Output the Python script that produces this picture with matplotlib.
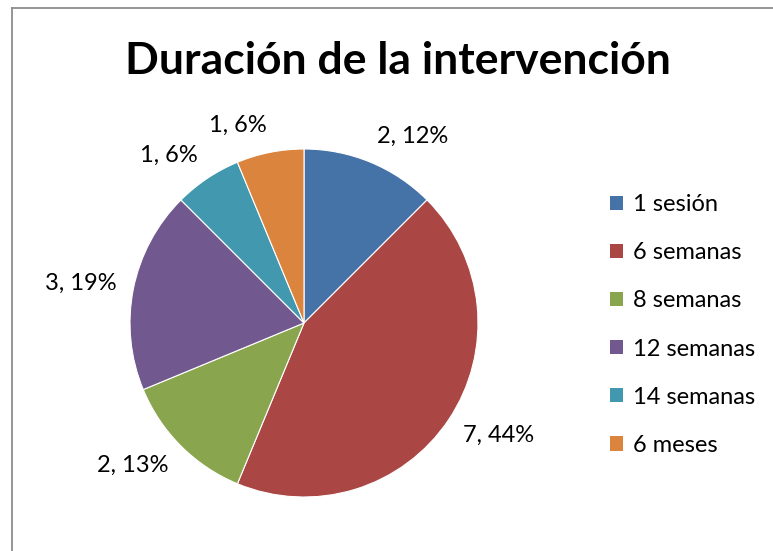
import numpy as np
import matplotlib
matplotlib.use("Agg")
import matplotlib.pyplot as plt
from matplotlib.lines import Line2D
from matplotlib.patches import Patch

categories = ["1 sesión", "6 semanas", "8 semanas", "12 semanas", "14 semanas", "6 meses"]
values = [2, 7, 2, 3, 1, 1]
pct_labels = ["12%", "44%", "13%", "19%", "6%", "6%"]
colors = ["#4572A7", "#AA4643", "#89A54E", "#71588F", "#4198AF", "#DB843D"]
title = "Duración de la intervención"

plt.rcParams['font.family'] = ['Lato', 'DejaVu Sans']

W, H = 773, 551
fig = plt.figure(figsize=(W / 100, H / 100), dpi=100)
fig.patch.set_facecolor("white")

cx, cy, r = 304, 228, 174
scale = 1.4
side = 2 * r * scale
ax = fig.add_axes([(cx - side / 2) / W, (cy - side / 2) / H, side / W, side / H])

wedges, _ = ax.pie(values, colors=colors, startangle=90, counterclock=False,
                   radius=1.0, wedgeprops=dict(edgecolor="white", linewidth=0.8))
ax.set_xlim(-scale, scale)
ax.set_ylim(-scale, scale)
ax.set_aspect("equal")
ax.set_axis_off()

# data labels placed outside each wedge (Excel "best fit" style)
labels = [f"{v}, {p}" for v, p in zip(values, pct_labels)]
for w, lab in zip(wedges, labels):
    ang = np.deg2rad((w.theta1 + w.theta2) / 2)
    c, s = np.cos(ang), np.sin(ang)
    ax.annotate(lab, xy=(1.1 * c, 1.1 * s), xytext=(0, 7.5 * s),
                textcoords="offset points", ha="left" if c >= 0 else "right",
                va="center", fontsize=17, color="black", annotation_clip=False)

fig.text(398 / W, 1 - 61 / H, title, ha="center", va="center",
         fontsize=32, fontweight="bold")

handles = [Patch(facecolor=c, edgecolor="none") for c in colors]
fig.legend(handles, categories, loc="center left",
           bbox_to_anchor=(589 / W, 1 - 325 / H), frameon=False,
           fontsize=17, handlelength=0.55, handleheight=0.55,
           handletextpad=0.4, labelspacing=1.15)

fig.add_artist(Line2D([12 / W, 12 / W], [0, 1 - 8 / H], color="#8c8c8c", linewidth=1.3))
fig.add_artist(Line2D([12 / W, 1], [1 - 8 / H, 1 - 8 / H], color="#8c8c8c", linewidth=1.3))

fig.savefig("out.png", dpi=100)
